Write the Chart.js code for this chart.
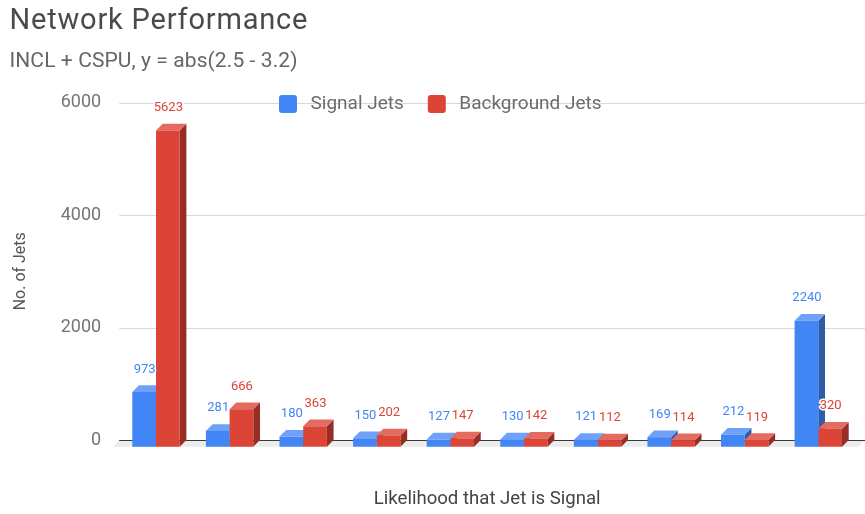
<!DOCTYPE html>
<html>
<head>
<meta charset="utf-8">
<script src="https://cdn.jsdelivr.net/npm/chart.js@4/dist/chart.umd.min.js"></script>
<style>
  html, body { margin: 0; padding: 0; background: #ffffff; }
  #wrap { width: 865px; height: 514px; position: relative; }
</style>
</head>
<body>
<div id="wrap"><canvas id="c" width="865" height="514"></canvas></div>
<script>
// Likelihood bins (not shown on the axis)
const bins = ['0.0-0.1', '0.1-0.2', '0.2-0.3', '0.3-0.4', '0.4-0.5',
              '0.5-0.6', '0.6-0.7', '0.7-0.8', '0.8-0.9', '0.9-1.0'];
const signalJets = [973, 281, 180, 150, 127, 130, 121, 169, 212, 2240];
const backgroundJets = [5623, 666, 363, 202, 147, 142, 112, 114, 119, 320];
const yTicks = [0, 2000, 4000, 6000];

const FONT = 'Roboto, "Noto Sans", Arial, sans-serif';
const frontColors = ['#4285F4', '#DB4437'];
const topColors = ['#6ea1f7', '#e46b60'];
const sideColors = ['#2d5cab', '#962e25'];
const DEPTH = 6.7;

function poly(ctx, pts) {
  ctx.beginPath();
  ctx.moveTo(pts[0][0], pts[0][1]);
  for (let i = 1; i < pts.length; i++) ctx.lineTo(pts[i][0], pts[i][1]);
  ctx.closePath();
  ctx.fill();
}

// draw a heading spread to a given width
function spacedText(ctx, txt, x, y, width) {
  ctx.letterSpacing = '0px';
  const w = ctx.measureText(txt).width;
  const sp = Math.max(0, (width - w) / (txt.length - 1));
  ctx.letterSpacing = sp.toFixed(2) + 'px';
  ctx.fillText(txt, x, y);
  ctx.letterSpacing = '0px';
}

// Back wall grid, floor, and the extruded sides/tops of each bar
const bars3d = {
  id: 'bars3d',
  beforeDatasetsDraw(chart) {
    const { ctx, chartArea, scales } = chart;
    const y = scales.y;
    const right = chart.width;
    ctx.save();
    ctx.lineWidth = 1;
    ctx.strokeStyle = '#d9d9d9';
    yTicks.forEach(v => {
      if (v === 0) return;
      const py = Math.round(y.getPixelForValue(v)) + 0.5;
      ctx.beginPath();
      ctx.moveTo(chartArea.left, py);
      ctx.lineTo(right, py);
      ctx.stroke();
    });
    const y0 = y.getPixelForValue(0);
    ctx.fillStyle = '#ececec';
    poly(ctx, [[chartArea.left, y0], [right, y0], [right - DEPTH, y0 + DEPTH], [chartArea.left - DEPTH, y0 + DEPTH]]);
    ctx.strokeStyle = '#3a3a3a';
    ctx.beginPath();
    ctx.moveTo(chartArea.left, Math.round(y0) + 0.5);
    ctx.lineTo(right, Math.round(y0) + 0.5);
    ctx.stroke();
    ctx.restore();

    // front faces are drawn by the library inside this translation
    ctx.save();
    ctx.translate(0, DEPTH);
    chart.data.datasets.forEach((ds, di) => {
      const meta = chart.getDatasetMeta(di);
      meta.data.forEach(el => {
        const p = el.getProps(['x', 'y', 'base', 'width'], true);
        const l = p.x - p.width / 2, r = p.x + p.width / 2;
        ctx.fillStyle = sideColors[di];
        poly(ctx, [[r, p.y], [r + DEPTH, p.y - DEPTH], [r + DEPTH, p.base - DEPTH], [r, p.base]]);
        ctx.fillStyle = topColors[di];
        poly(ctx, [[l, p.y], [l + DEPTH, p.y - DEPTH], [r + DEPTH, p.y - DEPTH], [r, p.y]]);
      });
    });
  },
  afterDatasetsDraw(chart) {
    const ctx = chart.ctx;
    ctx.restore();
    // value labels with a white halo
    ctx.save();
    ctx.font = '13px ' + FONT;
    ctx.textAlign = 'center';
    ctx.textBaseline = 'middle';
    ctx.lineJoin = 'round';
    chart.data.datasets.forEach((ds, di) => {
      const meta = chart.getDatasetMeta(di);
      meta.data.forEach((el, i) => {
        const p = el.getProps(['x', 'y'], true);
        const txt = String(ds.data[i]);
        ctx.strokeStyle = '#ffffff';
        ctx.lineWidth = 3;
        ctx.strokeText(txt, p.x + 0.5, p.y - 16);
        ctx.fillStyle = frontColors[di];
        ctx.fillText(txt, p.x + 0.5, p.y - 16);
      });
    });
    ctx.restore();
  },
  afterDraw(chart) {
    const ctx = chart.ctx;
    ctx.save();
    // headings
    ctx.textAlign = 'left';
    ctx.textBaseline = 'alphabetic';
    ctx.fillStyle = '#4a4a4a';
    ctx.font = '29px ' + FONT;
    spacedText(ctx, 'Network Performance', 9.5, 28.5, 298);
    ctx.fillStyle = '#666666';
    ctx.font = '21px ' + FONT;
    spacedText(ctx, 'INCL + CSPU, y = abs(2.5 - 3.2)', 9.5, 67, 288);

    // legend, centred on the top grid line
    const ly = chart.scales.y.getPixelForValue(yTicks[yTicks.length - 1]) + 1.5;
    ctx.font = '19px ' + FONT;
    ctx.textBaseline = 'middle';
    const box = 18, gapText = 13.5, gapItem = 24;
    const items = chart.data.datasets.map((ds, di) => ({ label: ds.label, color: frontColors[di], w: ctx.measureText(ds.label).width }));
    let total = 0;
    items.forEach((it, k) => { total += box + gapText + it.w + (k ? gapItem : 0); });
    let x = 440.3 - total / 2;
    items.forEach(it => {
      ctx.fillStyle = it.color;
      ctx.beginPath();
      ctx.roundRect(x, ly - box / 2, box, box, 3);
      ctx.fill();
      x += box + gapText;
      ctx.fillStyle = '#6b6b6b';
      ctx.fillText(it.label, x, ly);
      x += it.w + gapItem;
    });
    ctx.restore();
  }
};

new Chart(document.getElementById('c'), {
  type: 'bar',
  data: {
    labels: bins,
    datasets: [
      { label: 'Signal Jets', data: signalJets, backgroundColor: frontColors[0], borderWidth: 0, clip: false },
      { label: 'Background Jets', data: backgroundJets, backgroundColor: frontColors[1], borderWidth: 0, clip: false }
    ]
  },
  options: {
    responsive: false,
    animation: false,
    layout: { padding: { top: 102.5, right: 9.9, bottom: 0, left: 0 } },
    datasets: { bar: { categoryPercentage: 0.644, barPercentage: 1.0 } },
    plugins: { legend: { display: false }, tooltip: { enabled: false } },
    scales: {
      x: {
        ticks: { display: false },
        grid: { display: false, drawTicks: false },
        border: { display: false },
        title: { display: true, text: 'Likelihood that Jet is Signal', color: '#444444',
                 font: { family: FONT, size: 18.6 }, padding: { top: 0, bottom: 3 } },
        afterFit(scale) { scale.height = 74; }
      },
      y: {
        min: 0, max: 6000,
        afterBuildTicks(scale) { scale.ticks = yTicks.map(v => ({ value: v })); },
        ticks: { color: '#757575', font: { family: FONT, size: 18 }, padding: 18,
                 callback: v => String(v) },
        grid: { display: false, drawTicks: false },
        border: { display: false },
        title: { display: true, text: 'No. of Jets', color: '#555555',
                 font: { family: FONT, size: 16 }, padding: { top: 11, bottom: 0 } },
        afterFit(scale) { scale.width = 119.2; }
      }
    }
  },
  plugins: [bars3d]
});
</script>
</body>
</html>
